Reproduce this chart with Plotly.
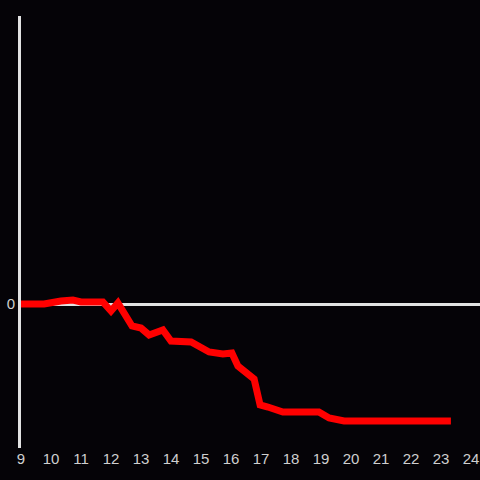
import plotly.graph_objects as go

hours = [9.0, 9.77, 10.33, 10.73, 11.0, 11.73, 12.0, 12.23, 12.7, 13.0, 13.27, 13.73,
         14.0, 14.67, 15.27, 15.73, 16.03, 16.23, 16.77, 16.97, 17.23, 17.73, 18.93,
         19.27, 19.77, 23.33]
values = [0, 0, 0.3, 0.4, 0.2, 0.2, -0.7, 0.1, -2.2, -2.4, -3.1, -2.6,
          -3.7, -3.8, -4.8, -5.0, -4.9, -6.2, -7.5, -10.1, -10.3, -10.8, -10.8,
          -11.4, -11.7, -11.7]
x_ticks = list(range(9, 25))
y_ticks = [0]

bg = "#050307"
fig = go.Figure(go.Scatter(x=hours, y=values, mode="lines",
                           line=dict(color="#ff0000", width=7), hoverinfo="skip"))
fig.update_layout(
    width=480, height=480,
    margin=dict(l=21, r=0, t=16, b=32, autoexpand=False),
    paper_bgcolor=bg, plot_bgcolor=bg,
    showlegend=False,
    font=dict(family="Liberation Sans, Arial, sans-serif", size=15, color="#cfcfcf"),
)
fig.update_xaxes(range=[9, 24.3], tickvals=x_ticks, showgrid=False, zeroline=False,
                 showline=False, ticks="", automargin=False,
                 tickfont=dict(size=15, color="#cfcfcf"))
fig.update_yaxes(range=[-14.4, 28.8], tickvals=y_ticks, showgrid=False,
                 zeroline=True, zerolinecolor="#e2e2e2", zerolinewidth=3,
                 showline=True, linecolor="#e2e2e2", linewidth=3, ticks="",
                 automargin=False, tickfont=dict(size=15, color="#cfcfcf"))
fig.write_html("out.html", config={"displayModeBar": False},
               post_script="document.body.style.margin='0';document.body.style.background='%s';" % bg)
